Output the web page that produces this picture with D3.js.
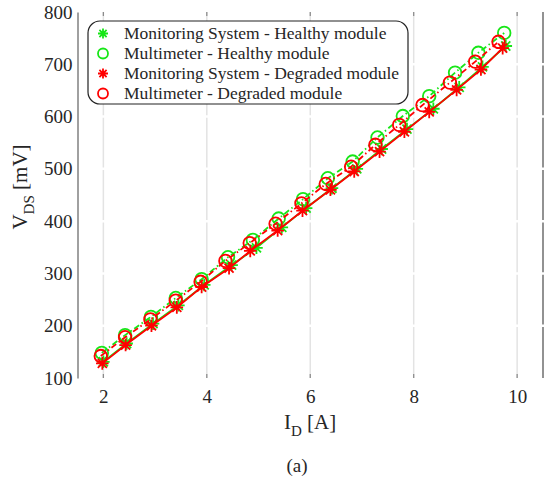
<!DOCTYPE html>
<html>
<head>
<meta charset="utf-8">
<script src="https://cdn.jsdelivr.net/npm/d3@7"></script>
<style>
  html, body { margin: 0; padding: 0; background: #fff; }
  svg { display: block; font-family: "Liberation Serif", "Times New Roman", serif; }
</style>
</head>
<body>
<svg id="chart" width="547" height="483"></svg>
<script>
// Drain current I_D [A] and drain-source voltage V_DS [mV]
const iHealthyMS  = [2.00, 2.45, 2.96, 3.45, 3.95, 4.48, 4.96, 5.45, 5.92, 6.42, 6.90, 7.38, 7.87, 8.38, 8.88, 9.33, 9.78];
const vHealthyMS  = [131, 166, 204, 239, 278, 316, 349, 388, 425, 463, 500, 538, 576, 615, 656, 695, 735];
const iHealthyMM  = [1.97, 2.42, 2.92, 3.40, 3.90, 4.41, 4.89, 5.39, 5.86, 6.34, 6.82, 7.30, 7.79, 8.30, 8.80, 9.25, 9.75];
const vHealthyMM  = [148, 182, 217, 253, 289, 331, 364, 405, 442, 482, 514, 560, 601, 639, 684, 722, 760];
const iDegradedMS = [1.98, 2.43, 2.93, 3.42, 3.90, 4.43, 4.84, 5.37, 5.85, 6.39, 6.85, 7.34, 7.82, 8.30, 8.83, 9.30, 9.72];
const vDegradedMS = [128, 163, 200, 235, 274, 310, 343, 382, 420, 460, 495, 533, 571, 609, 651, 690, 731];
const iDegradedMM = [1.95, 2.42, 2.91, 3.40, 3.88, 4.36, 4.83, 5.33, 5.83, 6.30, 6.79, 7.26, 7.72, 8.17, 8.70, 9.19, 9.64];
const vDegradedMM = [142, 178, 212, 248, 284, 324, 358, 395, 434, 471, 504, 546, 584, 622, 665, 705, 743];

const xTicks = [2, 4, 6, 8, 10];
const yTicks = [100, 200, 300, 400, 500, 600, 700, 800];
const seriesNames = [
  "Monitoring System - Healthy module",
  "Multimeter - Healthy module",
  "Monitoring System - Degraded module",
  "Multimeter - Degraded module"
];

const GREEN = "#17e617", RED = "#ff0000", INK = "#262626";

const series = [
  { name: seriesNames[0], x: iHealthyMS,  y: vHealthyMS,  color: GREEN, marker: "star",   dash: null },
  { name: seriesNames[1], x: iHealthyMM,  y: vHealthyMM,  color: GREEN, marker: "circle", dash: "6,3,1.5,3" },
  { name: seriesNames[2], x: iDegradedMS, y: vDegradedMS, color: RED,   marker: "star",   dash: null },
  { name: seriesNames[3], x: iDegradedMM, y: vDegradedMM, color: RED,   marker: "circle", dash: "6,3,1.5,3" }
];

const svg = d3.select("#chart");
const plotL = 77.5, plotR = 543, plotT = 12, plotB = 378;

const x = d3.scaleLinear().domain([1.5, 10.5]).range([plotL, plotR]);
const y = d3.scaleLinear().domain([100, 800]).range([plotB, plotT]);

// vertical grid
svg.append("g").selectAll("line").data(xTicks).join("line")
  .attr("x1", d => x(d)).attr("x2", d => x(d))
  .attr("y1", plotT).attr("y2", plotB)
  .attr("stroke", "#e3e3e3").attr("stroke-width", 1.5);

// right frame line
svg.append("line")
  .attr("x1", plotR).attr("x2", plotR).attr("y1", plotT).attr("y2", plotB)
  .attr("stroke", "#6e6e6e").attr("stroke-width", 1.5);

// white horizontal grid breaks
svg.append("g").selectAll("line").data(yTicks.slice(1, -1)).join("line")
  .attr("x1", plotL + 2).attr("x2", plotR + 2)
  .attr("y1", d => y(d)).attr("y2", d => y(d))
  .attr("stroke", "#fff").attr("stroke-width", 2.5);

// small tick marks top and bottom
svg.append("g").selectAll("line").data(xTicks).join("line")
  .attr("x1", d => x(d)).attr("x2", d => x(d))
  .attr("y1", plotB - 4).attr("y2", plotB)
  .attr("stroke", "#888").attr("stroke-width", 1.2);
svg.append("g").selectAll("line").data(xTicks).join("line")
  .attr("x1", d => x(d)).attr("x2", d => x(d))
  .attr("y1", plotT).attr("y2", plotT + 4)
  .attr("stroke", "#888").attr("stroke-width", 1.2);

// left axis
const yAxis = d3.axisLeft(y).tickValues(yTicks).tickSize(0).tickPadding(5);
const gy = svg.append("g").attr("transform", `translate(${plotL},0)`).call(yAxis);
gy.select(".domain").attr("stroke", "#808080").attr("stroke-width", 1.5);
gy.selectAll("text").attr("font-family", "Liberation Serif").attr("font-size", 19).attr("fill", INK);

// bottom axis labels
const xAxis = d3.axisBottom(x).tickValues(xTicks).tickSize(0);
const gx = svg.append("g").attr("transform", `translate(0,${plotB})`).call(xAxis);
gx.select(".domain").remove();
gx.selectAll("text").attr("font-family", "Liberation Serif").attr("font-size", 19)
  .attr("fill", INK).attr("y", 25).attr("dy", 0);

// axis titles
const xt = svg.append("text").attr("x", 310).attr("y", 429)
  .attr("text-anchor", "middle").attr("font-size", 21).attr("fill", INK);
xt.append("tspan").text("I");
xt.append("tspan").attr("dy", 7).attr("font-size", 15).text("D");
xt.append("tspan").attr("dy", -7).text(" [A]");

const yt = svg.append("text").attr("transform", "translate(27,187) rotate(-90)")
  .attr("text-anchor", "middle").attr("font-size", 21).attr("fill", INK);
yt.append("tspan").text("V");
yt.append("tspan").attr("dy", 7).attr("font-size", 15).text("DS");
yt.append("tspan").attr("dy", -7).text(" [mV]");

svg.append("text").attr("x", 297).attr("y", 472).attr("text-anchor", "middle")
  .attr("font-size", 19).attr("fill", INK).text("(a)");

// marker drawing
function drawMarker(g, type, color, size) {
  if (type === "circle") {
    g.append("circle").attr("r", size).attr("fill", "none")
      .attr("stroke", color).attr("stroke-width", 1.8);
  } else {
    const s = size, d = size * 0.72;
    const path = `M${-s},0L${s},0M0,${-s}L0,${s}M${-d},${-d}L${d},${d}M${-d},${d}L${d},${-d}`;
    g.append("path").attr("d", path).attr("fill", "none")
      .attr("stroke", color).attr("stroke-width", 1.8);
  }
}

const line = d3.line().x(d => x(d[0])).y(d => y(d[1]));
const plot = svg.append("g");
series.forEach(s => {
  const pts = s.x.map((v, i) => [v, s.y[i]]);
  plot.append("path").datum(pts).attr("d", line)
    .attr("fill", "none").attr("stroke", s.color).attr("stroke-width", 1.8)
    .attr("stroke-dasharray", s.dash);
  pts.forEach(p => {
    const g = plot.append("g").attr("transform", `translate(${x(p[0])},${y(p[1])})`);
    drawMarker(g, s.marker, s.color, 6.3);
  });
});

// legend
const lg = svg.append("g");
lg.append("rect").attr("x", 88).attr("y", 21).attr("width", 320).attr("height", 83)
  .attr("rx", 12).attr("ry", 12).attr("fill", "#fff").attr("stroke", "#222").attr("stroke-width", 1.2);
series.forEach((s, i) => {
  const cy = 33.5 + i * 20;
  const g = lg.append("g").attr("transform", `translate(103,${cy})`);
  drawMarker(g, s.marker, s.color, 5);
  lg.append("text").attr("x", 124).attr("y", cy + 5.5).attr("font-size", 17.5)
    .attr("fill", INK).text(s.name);
});
</script>
</body>
</html>
